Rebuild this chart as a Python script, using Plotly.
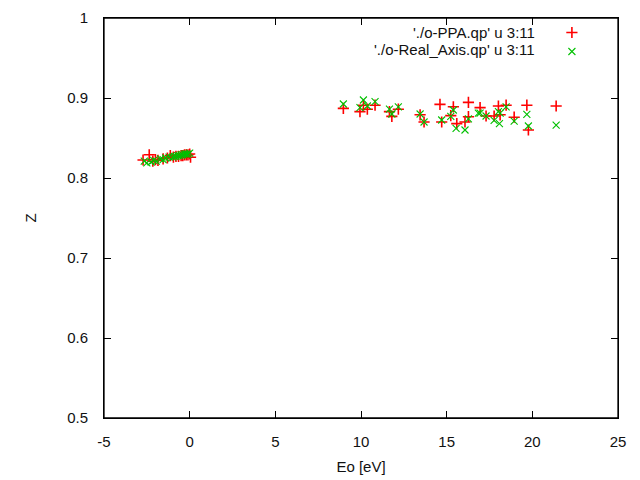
import plotly.graph_objects as go

# Series 1: './o-PPA.qp' u 3:11
ppa_x = [-2.72, -2.36, -2.15, -2.0, -1.85, -1.55, -1.3, -1.13, -0.95, -0.8, -0.65, -0.5, -0.4, -0.3, -0.2, -0.1, 0.0, 0.05,
         8.97, 10.14, 9.94, 10.37, 10.82, 11.66, 11.8, 12.18, 13.45, 13.68, 14.61, 15.39, 16.27, 15.24, 14.71, 15.59,
         16.07, 16.27, 16.95, 17.3, 18.02, 18.47, 17.77, 18.12, 18.94, 19.68, 19.77, 21.39]
ppa_y = [0.8225, 0.829, 0.821, 0.823, 0.822, 0.824, 0.825, 0.828, 0.826, 0.827, 0.827, 0.828, 0.828, 0.829, 0.829, 0.829, 0.830, 0.826,
         0.887, 0.891, 0.883, 0.886, 0.891, 0.883, 0.877, 0.886, 0.879, 0.870, 0.892, 0.889, 0.8945, 0.878, 0.870, 0.868,
         0.870, 0.8766, 0.888, 0.8775, 0.890, 0.891, 0.8775, 0.879, 0.876, 0.891, 0.860, 0.890]

# Series 2: './o-Real_Axis.qp' u 3:11
ra_x = [-2.65, -2.5, -2.25, -2.1, -1.95, -1.7, -1.55, -1.4, -1.2, -1.0, -0.9, -0.8, -0.7, -0.6, -0.5, -0.4, -0.3, -0.2, -0.1, 0.0,
        8.97, 10.14, 9.94, 10.37, 10.82, 11.66, 11.8, 12.18, 13.45, 13.68, 14.71, 15.39, 15.24, 15.55, 16.07, 16.27, 16.85,
        16.95, 17.3, 18.02, 18.47, 17.77, 18.12, 18.08, 18.94, 19.68, 19.77, 21.39]
ra_y = [0.821, 0.819, 0.820, 0.822, 0.821, 0.824, 0.823, 0.825, 0.826, 0.826, 0.827, 0.827, 0.828, 0.828, 0.829, 0.829, 0.830, 0.830, 0.830, 0.831,
        0.8925, 0.8975, 0.888, 0.890, 0.8955, 0.886, 0.880, 0.889, 0.880, 0.870, 0.8725, 0.885, 0.877, 0.862, 0.860, 0.874, 0.881,
        0.881, 0.8775, 0.883, 0.889, 0.872, 0.881, 0.868, 0.871, 0.8796, 0.865, 0.866]

x_range = [-5, 25]
y_range = [0.5, 1.0]
x_ticks = [-5, 0, 5, 10, 15, 20, 25]
x_ticktext = ["-5", "0", "5", "10", "15", "20", "25"]
y_ticks = [0.5, 0.6, 0.7, 0.8, 0.9, 1.0]
y_ticktext = ["0.5", "0.6", "0.7", "0.8", "0.9", "1"]

labels = ["'./o-PPA.qp' u 3:11", "'./o-Real_Axis.qp' u 3:11"]
RED = "#ff0000"
GREEN = "#00c000"
FONT = "Liberation Sans, Arial, sans-serif"
TXT = "#111"

fig = go.Figure()
fig.add_trace(go.Scatter(x=ppa_x, y=ppa_y, mode="markers", name=" ",
                         marker=dict(symbol="cross-thin", size=8, line=dict(color=RED, width=1.6), color=RED)))
fig.add_trace(go.Scatter(x=ra_x, y=ra_y, mode="markers", name=" ",
                         marker=dict(symbol="x-thin", size=7, line=dict(color=GREEN, width=1.1), color=GREEN)))

axis_common = dict(showline=True, linecolor="black", linewidth=1, mirror="allticks", ticks="inside",
                   ticklen=7, tickcolor="black", tickwidth=1, showgrid=False, zeroline=False,
                   tickfont=dict(family=FONT, size=15, color=TXT))

fig.update_layout(
    width=640, height=480,
    margin=dict(l=104, r=22, t=18, b=62, autoexpand=False),
    paper_bgcolor="white", plot_bgcolor="white",
    font=dict(family=FONT, size=15, color=TXT),
    xaxis=dict(range=x_range, tickmode="array", tickvals=x_ticks, ticktext=x_ticktext,
               ticklabelstandoff=10,
               title=dict(text="Eo [eV]", standoff=12, font=dict(size=15)), **axis_common),
    yaxis=dict(range=y_range, tickmode="array", tickvals=y_ticks, ticktext=y_ticktext,
               ticklabelstandoff=12,
               title=dict(text="Z", standoff=26, font=dict(size=15)), **axis_common),
    showlegend=True,
    legend=dict(x=0.8714, y=1.0, xanchor="left", yanchor="top", bgcolor="rgba(0,0,0,0)",
                tracegroupgap=0, font=dict(size=10)),
    shapes=[dict(type="rect", xref="paper", yref="paper", x0=0, y0=0, x1=1, y1=1,
                 line=dict(color="black", width=1.3), fillcolor="rgba(0,0,0,0)", layer="above")],
)
for lab, yy in zip(labels, [0.965, 0.92]):
    fig.add_annotation(x=0.8424, y=yy, xref="paper", yref="paper", text=lab, showarrow=False,
                       xanchor="right", yanchor="middle", font=dict(family=FONT, size=15, color=TXT))

fig.write_html("out.html", config={"displayModeBar": False},
               post_script="document.body.style.margin='0';document.body.style.overflow='hidden';")
